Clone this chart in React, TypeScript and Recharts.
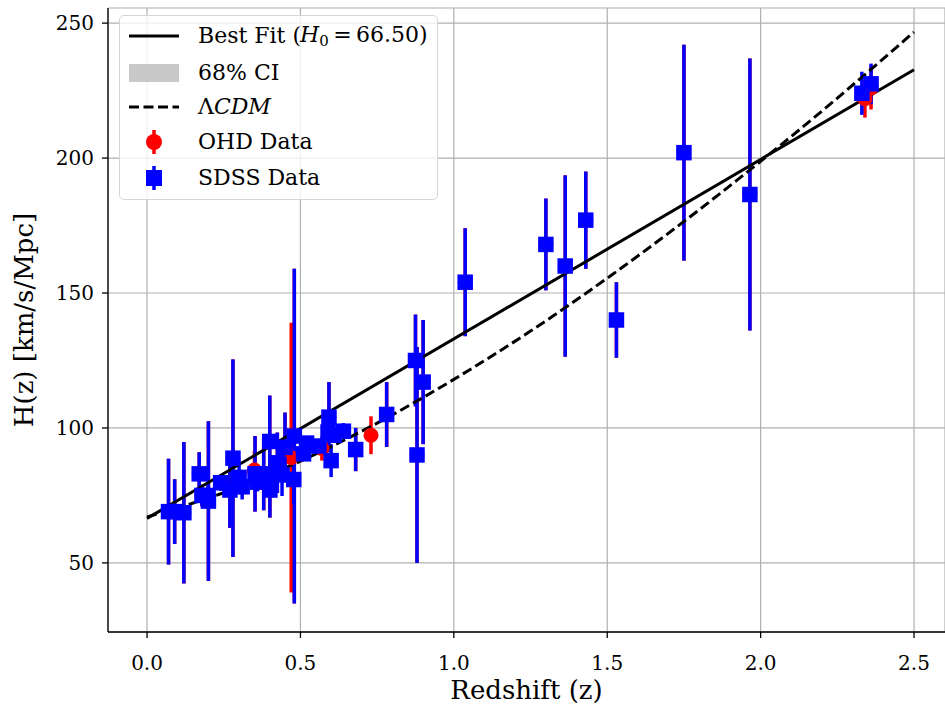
import React from "react";
import {
  ComposedChart,
  XAxis,
  YAxis,
  CartesianGrid,
  Line,
  Scatter,
  ErrorBar,
} from "recharts";

// OHD data (red): redshift, H(z), 1-sigma error
const ohdZ = [
  0.07, 0.09, 0.12, 0.17, 0.179, 0.199, 0.2, 0.27, 0.28, 0.35, 0.352, 0.3802,
  0.4, 0.4004, 0.4247, 0.4497, 0.47, 0.4783, 0.48, 0.57, 0.593, 0.68, 0.73,
  0.781, 0.875, 0.88, 0.9, 1.037, 1.3, 1.363, 1.43, 1.53, 1.75, 1.965, 2.34,
  2.36,
];
const ohdH = [
  69, 69, 68.6, 83, 75, 75, 72.9, 77, 88.8, 84.4, 83, 83, 95, 77, 87.1, 92.8,
  89, 80.9, 97, 92.4, 104, 92, 97.3, 105, 125, 90, 117, 154, 168, 160, 177,
  140, 202, 186.5, 222, 226,
];
const ohdErr = [
  19.6, 12, 26.2, 8, 4, 5, 29.6, 14, 36.6, 7, 14, 13.5, 17, 10.2, 11.2, 12.9,
  50, 9, 62, 4.5, 13, 8, 7, 12, 17, 40, 23, 20, 17, 33.6, 18, 14, 40, 50.4, 7,
  8,
];

// SDSS data (blue)
const sdssZ = [
  0.07, 0.09, 0.12, 0.17, 0.179, 0.199, 0.2, 0.24, 0.27, 0.28, 0.3, 0.31,
  0.352, 0.36, 0.38, 0.3802, 0.4, 0.4, 0.4004, 0.4247, 0.43, 0.44, 0.4497,
  0.4783, 0.48, 0.51, 0.52, 0.56, 0.59, 0.593, 0.6, 0.61, 0.64, 0.68, 0.781,
  0.875, 0.88, 0.9, 1.037, 1.3, 1.363, 1.43, 1.53, 1.75, 1.965, 2.33, 2.36,
];
const sdssH = [
  69, 69, 68.6, 83, 75, 75, 72.9, 79.7, 77, 88.8, 81.7, 78.2, 83, 79.9, 81.5,
  83, 95, 82, 77, 87.1, 86.5, 82.6, 92.8, 80.9, 97, 90.4, 94.4, 93.3, 98.5,
  104, 87.9, 97.3, 98.8, 92, 105, 125, 90, 117, 154, 168, 160, 177, 140, 202,
  186.5, 224, 227.5,
];
const sdssErr = [
  19.6, 12, 26.2, 8, 4, 5, 29.6, 3, 14, 36.6, 6.2, 4.7, 14, 3.4, 1.9, 13.5, 17,
  2, 10.2, 11.2, 3.7, 7.8, 12.9, 9, 62, 1.9, 2.6, 2.3, 3.2, 13, 6.1, 2.1, 3, 8,
  12, 17, 40, 23, 20, 17, 33.6, 18, 14, 40, 50.4, 8, 7.5,
];

// Best fit line (H0 = 66.50)
const fitZ = [0, 2.5];
const fitH = [66.5, 232.75];

// LCDM curve
const lcdmZ = [0, 0.25, 0.5, 0.75, 1.0, 1.25, 1.5, 1.75, 2.0, 2.25, 2.5];
const lcdmH = [67, 76, 87.7, 101.8, 118, 135.9, 155.5, 176.5, 198.8, 222.2, 246.7];

const xTicks = [0, 0.5, 1, 1.5, 2, 2.5];
const yTicks = [50, 100, 150, 200, 250];

const ohdRows = ohdZ.map((z, i) => ({ z, h: ohdH[i], err: ohdErr[i] }));
const sdssRows = sdssZ.map((z, i) => ({ z, h: sdssH[i], err: sdssErr[i] }));
const fitRows = fitZ.map((z, i) => ({ z, h: fitH[i] }));
const lcdmRows = lcdmZ.map((z, i) => ({ z, h: lcdmH[i] }));

const FONT = "'DejaVu Serif', serif";
const RED = "#ff0000";
const BLUE = "#0000ff";
const X_DOMAIN: [number, number] = [-0.1273, 2.601];
const DASH = "10 4.5";

const RedDot = (p: any) => <circle cx={p.cx} cy={p.cy} r={7.5} fill={RED} />;
const BlueSquare = (p: any) => (
  <rect x={p.cx - 7.75} y={p.cy - 7.75} width={15.5} height={15.5} fill={BLUE} />
);

function LegendBox() {
  const row = (top: number, sample: React.ReactNode, label: React.ReactNode) => (
    <div style={{ position: "absolute", left: 0, top: top - 18, height: 36, width: 318 }}>
      <svg width={70} height={36} style={{ position: "absolute", left: 0, top: 0 }}>
        {sample}
      </svg>
      <div
        style={{
          position: "absolute",
          left: 78,
          top: 0,
          lineHeight: "36px",
          fontSize: 22,
          fontFamily: FONT,
          whiteSpace: "nowrap",
        }}
      >
        {label}
      </div>
    </div>
  );
  return (
    <div
      style={{
        position: "absolute",
        left: 119,
        top: 15,
        width: 317,
        height: 183,
        border: "1.5px solid #d6d6d6",
        borderRadius: 5,
        background: "rgba(255,255,255,0.8)",
      }}
    >
      {row(20, <line x1={9} x2={59} y1={18} y2={18} stroke="#000" strokeWidth={3} />, "Best Fit (")}
      {row(57, <rect x={9} y={9} width={50} height={18} fill="#c8c8c8" />, "68% CI")}
      {row(
        91,
        <line x1={9} x2={59} y1={18} y2={18} stroke="#000" strokeWidth={3} strokeDasharray={DASH} />,
        <span>
          Λ<i>CDM</i>
        </span>
      )}
      {row(
        126,
        <g>
          <line x1={34} x2={34} y1={6} y2={30} stroke={RED} strokeWidth={3.5} />
          <circle cx={34} cy={18} r={8} fill={RED} />
        </g>,
        "OHD Data"
      )}
      {row(
        162,
        <g>
          <line x1={34} x2={34} y1={6} y2={30} stroke={BLUE} strokeWidth={3.5} />
          <rect x={26} y={10} width={16} height={16} fill={BLUE} />
        </g>,
        "SDSS Data"
      )}
    </div>
  );
}

function BestFitLabel() {
  // math part of the first legend row
  return (
    <div
      style={{
        position: "absolute",
        left: 197,
        top: 17,
        lineHeight: "36px",
        fontSize: 22,
        fontFamily: FONT,
        whiteSpace: "nowrap",
      }}
    >
      <span style={{ visibility: "hidden" }}>Best Fit (</span>
      <i>H</i>
      <sub style={{ fontSize: 15, verticalAlign: "-4px" }}>0</sub>
      <span>{"\u2009=\u200966.50)"}</span>
    </div>
  );
}

export default function App() {
  return (
    <div style={{ position: "absolute", left: 0, top: 0, width: 945, height: 711, background: "#fff" }}>
      <ComposedChart
        width={945}
        height={711}
        margin={{ top: 8, right: 0, left: 0, bottom: 29 }}
      >
        <CartesianGrid stroke="#b0b0b0" strokeWidth={1.2} />
        <XAxis
          dataKey="z"
          type="number"
          domain={X_DOMAIN}
          ticks={xTicks}
          allowDataOverflow
          tickFormatter={(v: number) => v.toFixed(1)}
          stroke="#000"
          strokeWidth={1.3}
          tickSize={6}
          tickMargin={18}
          height={50}
          tick={{ fill: "#000", fontSize: 20, fontFamily: FONT }}
        />
        <XAxis
          xAxisId="top"
          orientation="top"
          type="number"
          domain={X_DOMAIN}
          height={0}
          tick={false}
          tickLine={false}
          axisLine={{ stroke: "#000", strokeWidth: 1.3 }}
        />
        <YAxis
          type="number"
          domain={[24.4, 255.6]}
          ticks={yTicks}
          allowDataOverflow
          stroke="#000"
          strokeWidth={1.3}
          tickSize={6}
          tickMargin={8}
          width={108}
          tick={{ fill: "#000", fontSize: 20, fontFamily: FONT }}
        />
        <Scatter data={ohdRows} dataKey="h" shape={RedDot} isAnimationActive={false}>
          <ErrorBar dataKey="err" direction="y" width={0} stroke={RED} strokeWidth={3.5} />
        </Scatter>
        <Scatter data={sdssRows} dataKey="h" shape={BlueSquare} isAnimationActive={false}>
          <ErrorBar dataKey="err" direction="y" width={0} stroke={BLUE} strokeWidth={3.5} />
        </Scatter>
        <Line
          data={fitRows}
          dataKey="h"
          type="linear"
          stroke="#000"
          strokeWidth={3}
          dot={false}
          activeDot={false}
          isAnimationActive={false}
        />
        <Line
          data={lcdmRows}
          dataKey="h"
          type="natural"
          stroke="#000"
          strokeWidth={3}
          strokeDasharray={DASH}
          dot={false}
          activeDot={false}
          isAnimationActive={false}
        />
      </ComposedChart>
      <LegendBox />
      <BestFitLabel />
      <div
        style={{
          position: "absolute",
          left: 108,
          width: 837,
          top: 675,
          textAlign: "center",
          fontSize: 26,
          fontFamily: FONT,
        }}
      >
        Redshift (z)
      </div>
      <div
        style={{
          position: "absolute",
          left: 24,
          top: 320,
          transform: "translate(-50%, -50%) rotate(-90deg)",
          fontSize: 26,
          fontFamily: FONT,
          whiteSpace: "nowrap",
        }}
      >
        H(z) [km/s/Mpc]
      </div>
    </div>
  );
}
